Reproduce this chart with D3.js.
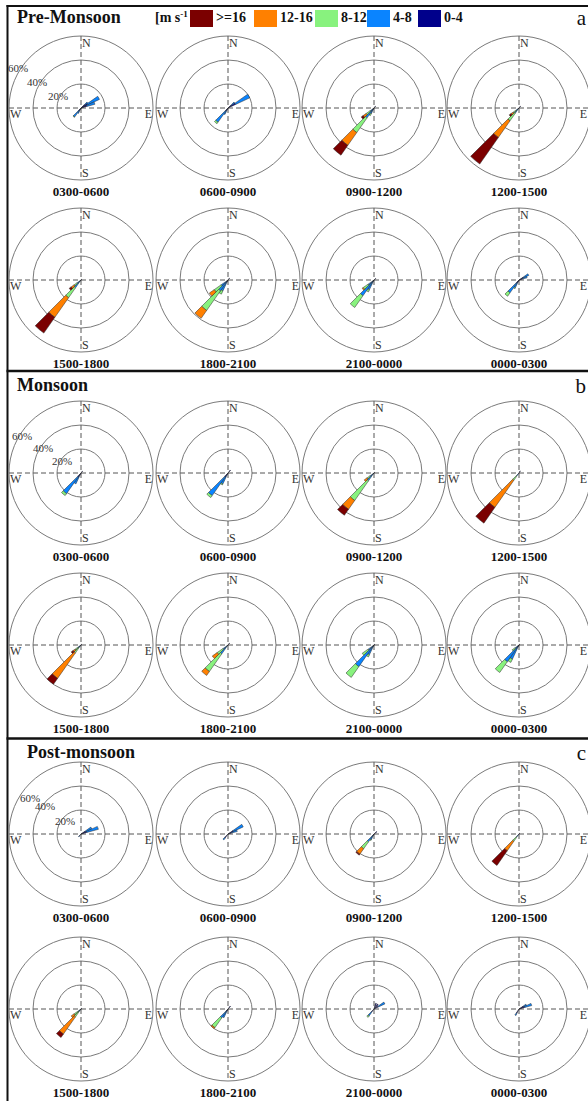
<!DOCTYPE html>
<html>
<head>
<meta charset="utf-8">
<script src="https://cdn.jsdelivr.net/npm/d3@7"></script>
<style>
  html, body { margin: 0; padding: 0; background: #fff; }
  svg { display: block; }
</style>
</head>
<body>
<svg id="chart" width="588" height="1101"></svg>
<script>
// Seasons and 3-hour periods (local time)
const seasons = ["Pre-Monsoon", "Monsoon", "Post-monsoon"];
const panelLetters = ["a", "b", "c"];
const periods = ["0300-0600", "0600-0900", "0900-1200", "1200-1500",
                 "1500-1800", "1800-2100", "2100-0000", "0000-0300"];

// Speed classes (m s-1), innermost first
const speedClasses = ["0-4", "4-8", "8-12", "12-16", ">=16"];
const speedColors  = ["#00008b", "#0a84ff", "#88f27e", "#ff8000", "#7b0000"];
const legendOrder  = [">=16", "12-16", "8-12", "4-8", "0-4"];

// Frequency rings (%)
const ringTicks = [20, 40, 60];
const compass = ["N", "E", "S", "W"];

// Each bar: [direction (deg from N), %0-4, %4-8, %8-12, %12-16, %>=16]
const preMonsoon = [
  [[50, 4, 3, 0, 0, 0], [60, 6, 11, 0, 0, 0], [70, 5, 7, 0, 0, 0], [210, 2, 3, 0, 0, 0], [220, 3, 6, 0.5, 0, 0]],
  [[50, 3, 4, 0, 0, 0], [60, 7, 13, 0, 0, 0], [210, 2, 4, 0, 0, 0], [220, 3, 11.5, 1.5, 0, 0]],
  [[40, 2, 0, 0, 0, 0], [210, 1, 4, 2, 0, 0], [220, 2, 8, 15, 13, 10], [230, 1, 3, 4, 3, 2]],
  [[40, 2, 0, 0, 0, 0], [220, 1, 4, 8, 17, 27], [230, 1, 2, 3, 2, 2]],
  [[40, 1, 0, 0, 0, 0], [220, 1, 7, 10, 20, 16], [230, 1, 3, 3, 3, 2]],
  [[40, 2, 0, 0, 0, 0], [210, 2, 8, 3, 0, 0], [220, 2, 9, 20, 8, 0], [230, 1, 6, 7, 5, 0]],
  [[50, 2, 0, 0, 0, 0], [210, 1, 8, 2, 0, 0], [220, 2, 14, 12, 0, 0], [230, 1, 5, 5, 1, 0]],
  [[60, 4, 5, 0, 0, 0], [70, 3, 4, 0, 0, 0], [210, 2, 5, 1, 0, 0], [220, 3, 10, 3.5, 0, 0]]
];

const monsoon = [
  [[40, 2, 0, 0, 0, 0], [210, 2, 8, 0, 0, 0], [220, 4, 17, 2, 0, 0]],
  [[40, 3, 0, 0, 0, 0], [210, 2, 8, 1, 0, 0], [220, 4, 19, 2, 0, 0]],
  [[40, 1, 0, 0, 0, 0], [220, 1, 7, 20, 9, 6], [230, 1, 3, 3, 3, 0]],
  [[30, 2, 0, 0, 0, 0], [220, 1, 2, 4.5, 27.5, 16]],
  [[40, 1, 0, 0, 0, 0], [220, 1, 2, 5, 26, 6], [230, 1, 2, 3, 2, 2]],
  [[40, 2, 0, 0, 0, 0], [220, 1, 8, 18, 4, 0], [230, 1, 4, 6, 5, 0]],
  [[40, 1, 0, 0, 0, 0], [210, 1, 8, 2, 0, 0], [220, 2, 20, 11, 0, 0], [230, 1, 5, 6, 0, 0]],
  [[40, 1, 0, 0, 0, 0], [210, 2, 11, 3, 0, 0], [220, 2, 15, 11, 0, 0], [230, 1, 3, 3, 0, 0]]
];

const postMonsoon = [
  [[60, 4, 6, 0, 0, 0], [70, 5, 10, 0, 0, 0], [220, 2, 1, 0, 0, 0]],
  [[60, 5, 9, 0, 0, 0], [70, 3, 5, 0, 0, 0], [220, 4, 2, 0, 0, 0]],
  [[50, 3, 0, 0, 0, 0], [210, 1, 4, 1, 0, 0], [220, 2, 6, 7, 5.5, 1]],
  [[40, 1, 0, 0, 0, 0], [220, 1, 2, 4.5, 9.5, 15]],
  [[40, 1, 0, 0, 0, 0], [220, 1, 2, 5, 17.5, 3.5], [230, 1, 2, 4, 3, 0]],
  [[40, 3, 0, 0, 0, 0], [210, 2, 6, 0, 0, 0], [220, 2, 7, 10, 1, 0]],
  [[20, 5, 0, 0, 0, 0], [40, 5, 0, 0, 0, 0], [60, 4, 6, 0, 0, 0], [220, 3, 4, 1.5, 0, 0]],
  [[60, 4, 3, 0, 0, 0], [70, 5, 6, 0, 0, 0], [210, 4, 2, 0, 0, 0]]
];

const seasonData = [preMonsoon, monsoon, postMonsoon];

// ---- layout ----
const W = 588;
const svg = d3.select("#chart");
const serif = "'Liberation Serif', 'Times New Roman', serif";
const colX = [81, 228, 374, 519];
const rowY = [[108, 280], [473, 645], [834, 1009]];
const panelTop = [6, 371, 738.5];
const outerR = 72;
const halfWidth = 5; // half sector width, degrees

const rScale = d3.scaleLinear().domain([0, 60]).range([0, outerR]);
const colorScale = d3.scaleOrdinal().domain(speedClasses).range(speedColors);
const arc = d3.arc();
const rad = d => d * Math.PI / 180;

// frame
const frame = svg.append("g").attr("stroke", "#111").attr("fill", "none");
frame.append("line").attr("x1", 7.5).attr("x2", 7.5).attr("y1", 5).attr("y2", 1101).attr("stroke-width", 2);
panelTop.forEach((y, i) => {
  frame.append("line").attr("x1", 6.5).attr("x2", W).attr("y1", y).attr("y2", y)
    .attr("stroke-width", i === 0 ? 2 : 2.5);
});

// legend
const legend = svg.append("g").attr("font-family", serif).attr("font-weight", "bold");
const unit = legend.append("text").attr("x", 155).attr("y", 22).attr("font-size", 14).attr("fill", "#111");
unit.append("tspan").text("[m s");
unit.append("tspan").attr("dy", -5).attr("font-size", 9).text("-1");
const swatchX = [190, 254, 315, 367, 418];
legendOrder.forEach((cls, i) => {
  legend.append("rect").attr("x", swatchX[i]).attr("y", 10).attr("width", 23).attr("height", 17)
    .attr("fill", colorScale(cls));
  legend.append("text").attr("x", swatchX[i] + 26).attr("y", 22).attr("font-size", 14)
    .attr("fill", "#111").text(cls);
});

// ring label offsets per panel (first rose only)
const ringLabelPos = [
  [[-33, -8], [-54, -22], [-73, -36]],
  [[-29, -8], [-48, -21], [-69, -33]],
  [[-26, -9], [-46, -24], [-61, -32]]
];
const titleX = [17, 17, 27];
const titleY = [23, 391, 758];

seasons.forEach((season, s) => {
  const g = svg.append("g");
  g.append("text").attr("x", titleX[s]).attr("y", titleY[s])
    .attr("font-family", serif).attr("font-weight", "bold").attr("font-size", 18)
    .attr("fill", "#111").text(season);
  g.append("text").attr("x", W - 2).attr("y", titleY[s] + 2).attr("text-anchor", "end")
    .attr("font-family", serif).attr("font-size", 21).attr("fill", "#111").text(panelLetters[s]);

  periods.forEach((period, p) => {
    const cx = colX[p % 4], cy = rowY[s][Math.floor(p / 4)];
    const rose = g.append("g").attr("transform", `translate(${cx},${cy})`);

    rose.selectAll("circle.ring").data(ringTicks).join("circle")
      .attr("class", "ring").attr("r", d => rScale(d))
      .attr("fill", "none").attr("stroke", "#7a7a7a").attr("stroke-width", 1);

    rose.append("line").attr("x1", -outerR).attr("x2", outerR).attr("y1", 0).attr("y2", 0)
      .attr("stroke", "#555").attr("stroke-dasharray", "5,3").attr("stroke-width", 1);
    rose.append("line").attr("y1", -outerR).attr("y2", outerR).attr("x1", 0).attr("x2", 0)
      .attr("stroke", "#555").attr("stroke-dasharray", "5,3").attr("stroke-width", 1);

    // stacked sectors
    const segs = [];
    seasonData[s][p].forEach(row => {
      const dir = row[0];
      let cum = 0;
      speedClasses.forEach((cls, k) => {
        const v = row[k + 1];
        if (v > 0) {
          segs.push({ cls, dir, inner: cum, outer: cum + v });
          cum += v;
        }
      });
    });
    rose.selectAll("path.bar").data(segs).join("path")
      .attr("class", "bar")
      .attr("d", d => arc({
        innerRadius: rScale(d.inner), outerRadius: rScale(d.outer),
        startAngle: rad(d.dir - halfWidth), endAngle: rad(d.dir + halfWidth)
      }))
      .attr("fill", d => colorScale(d.cls))
      .attr("stroke", "#2a2a2a").attr("stroke-width", 0.5);

    // compass letters (E kept inside the page on the last column)
    const eX = Math.min(71, W - 1 - cx);
    const lab = rose.append("g").attr("font-family", serif).attr("font-size", 12).attr("fill", "#333");
    lab.append("text").attr("x", 1).attr("y", -61).text(compass[0]);
    lab.append("text").attr("x", eX).attr("y", 10).attr("text-anchor", "end").text(compass[1]);
    lab.append("text").attr("x", 1).attr("y", 69).text(compass[2]);
    lab.append("text").attr("x", -71).attr("y", 10).text(compass[3]);

    if (p === 0) {
      ringTicks.forEach((t, i) => {
        rose.append("text").attr("x", ringLabelPos[s][i][0]).attr("y", ringLabelPos[s][i][1])
          .attr("font-family", serif).attr("font-size", 11).attr("fill", "#333").text(t + "%");
      });
    }

    rose.append("text").attr("x", 0).attr("y", 88).attr("text-anchor", "middle")
      .attr("font-family", serif).attr("font-weight", "bold").attr("font-size", 13)
      .attr("fill", "#111").text(period);
  });
});
</script>
</body>
</html>
